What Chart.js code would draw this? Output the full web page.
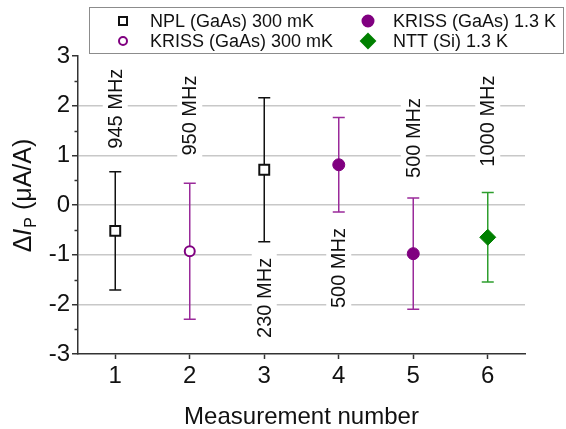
<!DOCTYPE html>
<html><head><meta charset="utf-8">
<script src="https://cdn.jsdelivr.net/npm/chart.js@4/dist/chart.umd.min.js"></script>
<style>html,body{margin:0;padding:0;background:#fff}#wrap{width:566px;height:429px}</style>
</head><body><div id="wrap"><canvas id="c" width="566" height="429"></canvas></div>
<script>
// ---- data ----
const measurementNumbers = [1, 2, 3, 4, 5, 6];
const xTickLabels = ['1', '2', '3', '4', '5', '6'];
const yTickValues = [-3, -2, -1, 0, 1, 2, 3];
const seriesNames = ['NPL (GaAs) 300 mK', 'KRISS (GaAs) 300 mK', 'KRISS (GaAs) 1.3 K', 'NTT (Si) 1.3 K'];

const nplX = [1, 3];
const nplY = [-0.52, 0.71];
const nplErr = [1.19, 1.45];

const kriss300X = [2];
const kriss300Y = [-0.93];
const kriss300Err = [1.37];

const kriss13X = [4, 5];
const kriss13Y = [0.81, -0.98];
const kriss13Err = [0.95, 1.12];

const nttX = [6];
const nttY = [-0.65];
const nttErr = [0.90];

const freqLabels = ['945 MHz', '950 MHz', '230 MHz', '500 MHz', '500 MHz', '1000 MHz'];
const freqLabelY = [1.94, 1.80, -1.87, -1.27, 1.35, 1.69];

// ---- styling ----
const FONT = "'Liberation Sans', Arial, sans-serif";
const PURPLE = '#800080', PURPLE_BAR = '#9a2a9a';
const GREEN = '#008000', GREEN_BAR = '#2e9e2e';
const BLACK = '#111111';

function pts(xs, ys) { return xs.map((x, i) => ({ x: x, y: ys[i] })); }

const datasets = [
  { label: seriesNames[0], data: pts(nplX, nplY), errors: nplErr, barColor: BLACK,
    pointStyle: 'rect', pointRadius: 7, borderWidth: 2, borderColor: BLACK, backgroundColor: '#ffffff',
    legendMarker: { style: 'rect', r: 4, fill: '#ffffff', stroke: BLACK } },
  { label: seriesNames[1], data: pts(kriss300X, kriss300Y), errors: kriss300Err, barColor: PURPLE_BAR,
    pointStyle: 'circle', pointRadius: 5, borderWidth: 2, borderColor: PURPLE, backgroundColor: '#ffffff',
    legendMarker: { style: 'circle', r: 4, fill: '#ffffff', stroke: PURPLE } },
  { label: seriesNames[2], data: pts(kriss13X, kriss13Y), errors: kriss13Err, barColor: PURPLE_BAR,
    pointStyle: 'circle', pointRadius: 6, borderWidth: 1, borderColor: PURPLE, backgroundColor: PURPLE,
    legendMarker: { style: 'circle', r: 5.5, fill: PURPLE, stroke: PURPLE } },
  { label: seriesNames[3], data: pts(nttX, nttY), errors: nttErr, barColor: GREEN_BAR,
    pointStyle: 'rectRot', pointRadius: 8, borderWidth: 1, borderColor: GREEN, backgroundColor: GREEN,
    legendMarker: { style: 'diamond', r: 7, fill: GREEN, stroke: GREEN } }
];

function drawMarker(ctx, m, x, y) {
  ctx.save();
  ctx.beginPath();
  if (m.style === 'rect') {
    ctx.rect(x - m.r, y - m.r, 2 * m.r, 2 * m.r);
  } else if (m.style === 'circle') {
    ctx.arc(x, y, m.r, 0, Math.PI * 2);
  } else {
    ctx.moveTo(x, y - m.r); ctx.lineTo(x + m.r, y); ctx.lineTo(x, y + m.r); ctx.lineTo(x - m.r, y); ctx.closePath();
  }
  ctx.fillStyle = m.fill; ctx.fill();
  ctx.lineWidth = 2; ctx.strokeStyle = m.stroke; ctx.stroke();
  ctx.restore();
}

const extras = {
  id: 'extras',
  beforeDatasetsDraw(chart) {
    const ctx = chart.ctx, xs = chart.scales.x, ys = chart.scales.y;
    // frequency labels with white background
    ctx.save();
    ctx.font = '20px ' + FONT;
    freqLabels.forEach((t, i) => {
      const px = xs.getPixelForValue(measurementNumbers[i]);
      const py = ys.getPixelForValue(freqLabelY[i]);
      const w = ctx.measureText(t).width;
      ctx.save();
      ctx.translate(px, py);
      ctx.rotate(-Math.PI / 2);
      ctx.fillStyle = '#ffffff';
      ctx.fillRect(-w / 2 - 4, -12.5, w + 8, 25);
      ctx.fillStyle = BLACK;
      ctx.textAlign = 'center';
      ctx.textBaseline = 'middle';
      ctx.fillText(t, 0, 1);
      ctx.restore();
    });
    ctx.restore();
    // error bars
    ctx.save();
    ctx.lineWidth = 1.5;
    chart.data.datasets.forEach(ds => {
      ctx.strokeStyle = ds.barColor;
      ds.data.forEach((p, j) => {
        const px = xs.getPixelForValue(p.x);
        const yt = ys.getPixelForValue(p.y + ds.errors[j]);
        const yb = ys.getPixelForValue(p.y - ds.errors[j]);
        ctx.beginPath();
        ctx.moveTo(px, yt); ctx.lineTo(px, yb);
        ctx.moveTo(px - 6, yt); ctx.lineTo(px + 6, yt);
        ctx.moveTo(px - 6, yb); ctx.lineTo(px + 6, yb);
        ctx.stroke();
      });
    });
    ctx.restore();
    // minor y ticks
    ctx.save();
    ctx.strokeStyle = '#333333'; ctx.lineWidth = 1.5;
    for (let k = 0; k < yTickValues.length - 1; k++) {
      const v = (yTickValues[k] + yTickValues[k + 1]) / 2;
      const py = Math.round(ys.getPixelForValue(v)) + 0.5;
      ctx.beginPath(); ctx.moveTo(chart.chartArea.left - 3.5, py); ctx.lineTo(chart.chartArea.left, py); ctx.stroke();
    }
    ctx.restore();
  },
  afterDraw(chart) {
    const ctx = chart.ctx, ys = chart.scales.y;
    // y-axis title: ΔI_P (μA/A)
    ctx.save();
    ctx.translate(31, ys.getPixelForValue(0.18));
    ctx.rotate(-Math.PI / 2);
    ctx.fillStyle = BLACK;
    ctx.textBaseline = 'alphabetic';
    const parts = [
      { t: 'Δ', f: '25px ' + FONT, dy: 0 },
      { t: 'I', f: 'italic 25px ' + FONT, dy: 0 },
      { t: 'P', f: '16px ' + FONT, dy: 5 },
      { t: ' (μA/A)', f: '25px ' + FONT, dy: 0 }
    ];
    let total = 0;
    parts.forEach(p => { ctx.font = p.f; p.w = ctx.measureText(p.t).width; total += p.w; });
    let cx = -total / 2;
    parts.forEach(p => { ctx.font = p.f; ctx.fillText(p.t, cx, p.dy); cx += p.w + (p.t === 'I' ? 1 : 0); });
    ctx.restore();
    // legend
    ctx.save();
    ctx.strokeStyle = '#8c8c8c'; ctx.lineWidth = 1;
    ctx.fillStyle = '#ffffff';
    ctx.fillRect(89.5, 7.5, 474, 46);
    ctx.strokeRect(89.5, 7.5, 474, 46);
    const pos = [[123, 150, 21], [123, 150, 41], [368, 393, 21], [368, 393, 41]];
    ctx.font = '18px ' + FONT;
    ctx.textBaseline = 'middle';
    chart.data.datasets.forEach((ds, i) => {
      const [mx, tx, y] = pos[i];
      drawMarker(ctx, ds.legendMarker, mx, y);
      ctx.fillStyle = BLACK;
      ctx.fillText(ds.label, tx, y + 1);
    });
    ctx.restore();
  }
};

new Chart(document.getElementById('c'), {
  type: 'scatter',
  data: { datasets: datasets },
  options: {
    responsive: false,
    animation: false,
    devicePixelRatio: 1,
    layout: { padding: { left: 0, right: 41, top: 56, bottom: 0 } },
    plugins: { legend: { display: false }, tooltip: { enabled: false } },
    scales: {
      x: {
        type: 'linear', min: 0.5, max: 6.5,
        afterBuildTicks: s => { s.ticks = measurementNumbers.map(v => ({ value: v })); },
        afterFit: s => { s.height = 75; },
        ticks: { callback: v => xTickLabels[measurementNumbers.indexOf(v)] || '', font: { family: FONT, size: 24 }, color: BLACK, padding: 3, maxRotation: 0 },
        grid: { drawOnChartArea: false, drawTicks: true, tickLength: 5, tickColor: '#333333', tickWidth: 1.5 },
        border: { color: '#333333', width: 1.5 },
        title: { display: true, text: 'Measurement number', font: { family: FONT, size: 24 }, color: BLACK, padding: { top: 0, bottom: -3 } }
      },
      y: {
        type: 'linear', min: -3, max: 3,
        afterBuildTicks: s => { s.ticks = yTickValues.map(v => ({ value: v })); },
        afterFit: s => { s.width = 78; },
        ticks: { font: { family: FONT, size: 24 }, color: BLACK, padding: 2 },
        grid: {
          color: c => (c.tick && Math.abs(c.tick.value) < 3) ? '#c8c8c8' : 'rgba(0,0,0,0)',
          lineWidth: 1.5, drawTicks: true, tickLength: 6, tickColor: '#333333', tickWidth: 1.5
        },
        border: { color: '#333333', width: 1.5 }
      }
    }
  },
  plugins: [extras]
});
</script>
</body></html>
